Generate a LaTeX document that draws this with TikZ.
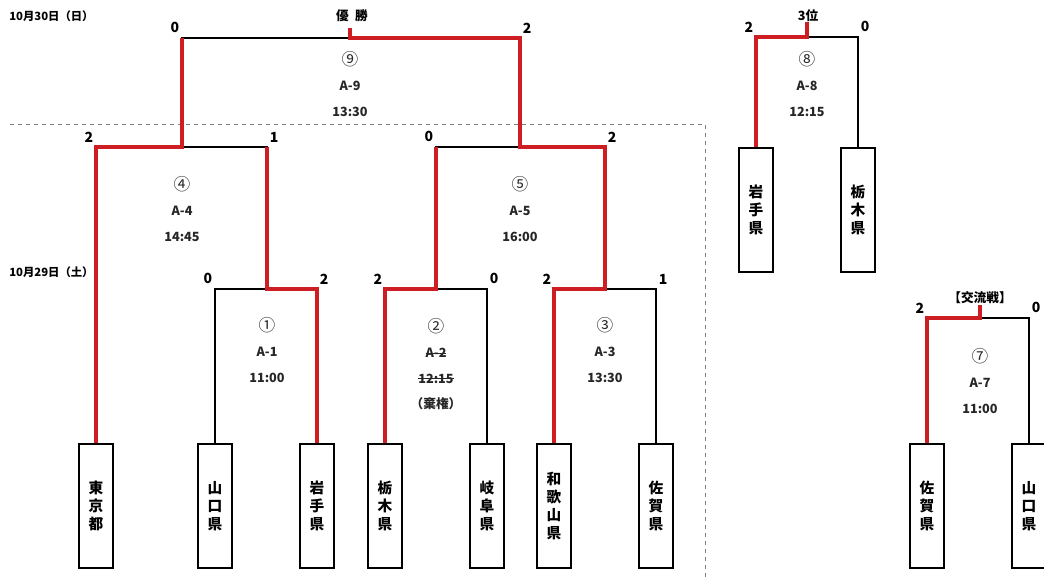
\documentclass[tikz,border=0pt]{standalone}
\usepackage{fontspec}
\setmainfont{Noto Sans CJK JP}
\definecolor{winred}{RGB}{205,30,36}
\newcommand{\strk}[1]{\setbox0\hbox{#1}\rlap{\rule[0.3em]{\wd0}{0.7pt}}\box0}
\newcommand{\mno}[1]{{\fontsize{12.5}{19}\mdseries\selectfont #1}}
\tikzset{
  team/.style={draw, line width=1pt, minimum width=25.5pt, minimum height=93pt,
    inner sep=0pt, align=center, font=\fontsize{11}{13.5}\selectfont\bfseries},
  score/.style={inner xsep=2pt, inner ysep=3.5pt, font=\fontsize{10.5}{12}\selectfont\bfseries},
  info/.style={align=center, text=black!85, font=\fontsize{9.5}{19}\selectfont\bfseries},
  title/.style={font=\fontsize{9.5}{12}\selectfont\bfseries},
  datelbl/.style={anchor=west, inner sep=0pt, font=\fontsize{8.5}{10}\selectfont\bfseries},
  lost/.style={line width=0.9pt},
  won/.style={line width=3pt, winred}
}
\begin{document}
\begin{tikzpicture}[x=0.75pt,y=-0.75pt]
  \useasboundingbox (0,0) rectangle (1044,577);
  % teams
  \node[team] (tk) at (96,506) {東\\京\\都};
  \node[team] (yg) at (215,506) {山\\口\\県};
  \node[team] (iw) [right of=yg, node distance=76.5pt] {岩\\手\\県};
  \node[team] (tg) at (385,506) {栃\\木\\県};
  \node[team] (gf) [right of=tg, node distance=76.5pt] {岐\\阜\\県};
  \node[team] (wk) at (554,506) {和\\歌\\山\\県};
  \node[team] (sg) [right of=wk, node distance=76.5pt] {佐\\賀\\県};
  \node[team] (iw8) at (756,210) {岩\\手\\県};
  \node[team] (tg8) [right of=iw8, node distance=76.5pt] {栃\\木\\県};
  \node[team] (sg7) at (927,506) {佐\\賀\\県};
  \node[team] (yg7) [right of=sg7, node distance=76.5pt] {山\\口\\県};
  % junctions
  \coordinate (j1) at (267,289);
  \coordinate (j2) at (436,289);
  \coordinate (j3) at (605,289);
  \coordinate (j4) at (182,147);
  \coordinate (j5) at (520,147);
  \coordinate (j9) at (350,38);
  \coordinate (t9) at (350,28);
  \coordinate (j8) at (807,37);
  \coordinate (t8) at (807,22);
  \coordinate (j7) at (980,318);
  \coordinate (t7) at (980,305);
  % day split
  \draw[dashed, gray, line width=0.5pt] (10,124) -- (705,124) -- (705,577);
  % brackets
  \draw[lost] (tk.north) |- (j4) -| (j1);
  \draw[lost] (yg.north) |- (j1) -| (iw.north);
  \draw[lost] (tg.north) |- (j2) -| (gf.north);
  \draw[lost] (wk.north) |- (j3) -| (sg.north);
  \draw[lost] (j2) |- (j5) -| (j3);
  \draw[lost] (j4) |- (j9) -| (j5);
  \draw[lost] (iw8.north) |- (j8) -| (tg8.north);
  \draw[lost] (sg7.north) |- (j7) -| (yg7.north);
  % winners
  \draw[won] (iw.north) |- (j1) -- (j1 |- j4);
  \draw[won] (tk.north) |- (j4) -- (j4 |- j9);
  \draw[won] (tg.north) |- (j2) -- (j2 |- j5);
  \draw[won] (wk.north) |- (j3) |- (j5) |- (j9) -- (t9);
  \draw[won] (iw8.north) |- (j8) -- (t8);
  \draw[won] (sg7.north) |- (j7) -- (t7);
  % scores
  \node[score, above left] (s9a) at (j4 |- j9) {0};
  \node[score, above right] (s9b) at (j5 |- j9) {2};
  \node[score, above left] (s4a) at (tk.north |- j4) {2};
  \node[score, above right] (s4b) at (j1 |- j4) {1};
  \node[score, above left] (s5a) at (j2 |- j5) {0};
  \node[score, above right] (s5b) at (j3 |- j5) {2};
  \node[score, above left] (s1a) at (yg.north |- j1) {0};
  \node[score, above right] (s1b) at (iw.north |- j1) {2};
  \node[score, above left] (s2a) at (tg.north |- j2) {2};
  \node[score, above right] (s2b) at (gf.north |- j2) {0};
  \node[score, above left] (s3a) at (wk.north |- j3) {2};
  \node[score, above right] (s3b) at (sg.north |- j3) {1};
  \node[score, above left] (s8a) at (iw8.north |- j8) {2};
  \node[score, above right] (s8b) at (tg8.north |- j8) {0};
  \node[score, above left] (s7a) at (sg7.north |- j7) {2};
  \node[score, above right] (s7b) at (yg7.north |- j7) {0};
  % matches
  \node[info] (m9) at (350,84) {\mno{⑨}\\A-9\\13:30};
  \node[info] (m4) at (182,209) {\mno{④}\\A-4\\14:45};
  \node[info] (m5) at (520,209) {\mno{⑤}\\A-5\\16:00};
  \node[info] (m1) at (267,350) {\mno{①}\\A-1\\11:00};
  \node[info] (m2) at (436,364) {\mno{②}\\\strk{A-2}\\\strk{12:15}\\（棄権）};
  \node[info] (m3) at (605,350) {\mno{③}\\A-3\\13:30};
  \node[info] (m8) at (807,84) {\mno{⑧}\\A-8\\12:15};
  \node[info] (m7) at (980,381) {\mno{⑦}\\A-7\\11:00};
  % titles
  \node[title] (win) at (352,16) {優\enspace 勝};
  \node[title] (third) at (808,16) {3位};
  \node[title] (friend) at (980,298) {【交流戦】};
  \node[datelbl] (d30) at (9,16) {10月30日（日）};
  \node[datelbl] (d29) at (9,272) {10月29日（土）};
\end{tikzpicture}
\end{document}
